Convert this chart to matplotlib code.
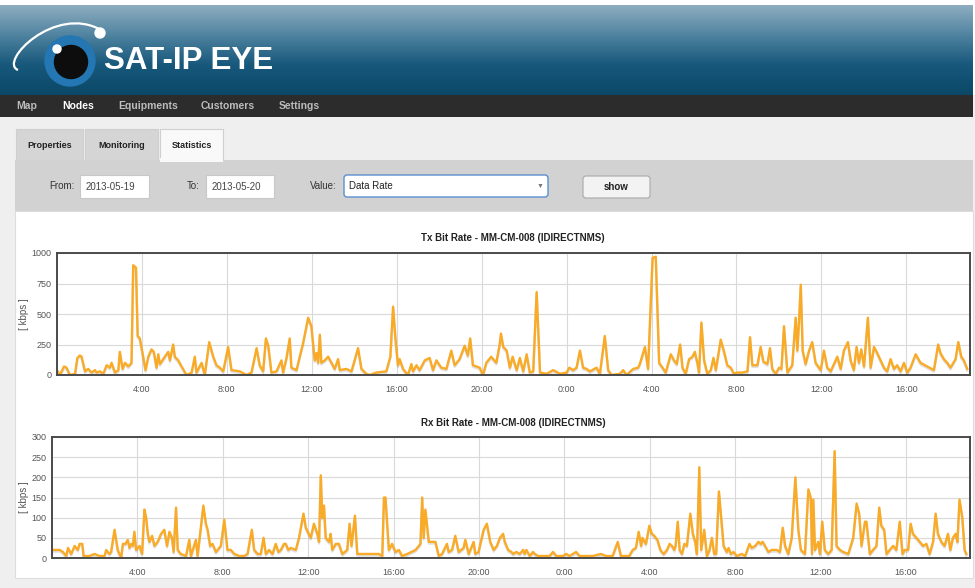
import numpy as np
import matplotlib
matplotlib.use('Agg')
import matplotlib.pyplot as plt
import matplotlib.patches as mpatches
import matplotlib.patheffects as pe
from matplotlib.path import Path
from matplotlib.colors import LinearSegmentedColormap

plt.rcParams['font.family'] = ['Liberation Sans', 'DejaVu Sans']

# ---- data (hours since 2013-05-19 0:00, kbps) ----
tx_hours = [0.0, 0.14, 0.33, 0.45, 0.61, 0.85, 0.96, 1.08, 1.16, 1.32, 1.47, 1.63, 1.79, 1.87,
            2.02, 2.18, 2.34, 2.49, 2.57, 2.73, 2.89, 2.96, 3.09, 3.2, 3.36, 3.51, 3.59, 3.72,
            3.8, 3.9, 4.06, 4.17, 4.3, 4.45, 4.56, 4.69, 4.77, 4.85, 5.08, 5.24, 5.32, 5.47,
            5.55, 5.71, 5.87, 6.1, 6.34, 6.49, 6.57, 6.81, 6.96, 7.17, 7.36, 7.51, 7.67, 7.83,
            8.06, 8.22, 8.61, 8.93, 9.16, 9.4, 9.55, 9.71, 9.84, 9.95, 10.1, 10.34, 10.57,
            10.65, 10.81, 10.96, 11.04, 11.28, 11.59, 11.83, 11.98, 12.14, 12.22, 12.3, 12.38,
            12.45, 12.61, 12.77, 12.93, 13.08, 13.24, 13.32, 13.63, 13.87, 14.18, 14.34, 14.57,
            14.73, 15.04, 15.51, 15.7, 15.83, 15.94, 16.06, 16.14, 16.3, 16.53, 16.69, 16.77,
            16.93, 17.08, 17.32, 17.55, 17.71, 17.87, 18.1, 18.34, 18.57, 18.73, 18.96, 19.2,
            19.35, 19.46, 19.59, 19.91, 20.06, 20.22, 20.45, 20.69, 20.85, 20.91, 21.02, 21.18,
            21.33, 21.46, 21.65, 21.8, 21.96, 22.12, 22.27, 22.43, 22.59, 22.75, 23.06, 23.37,
            23.69, 24.0, 24.13, 24.31, 24.47, 24.63, 24.78, 24.94, 25.1, 25.41, 25.57, 25.8,
            25.96, 26.12, 26.51, 26.67, 26.82, 27.14, 27.37, 27.45, 27.69, 27.84, 28.05, 28.2,
            28.36, 28.52, 28.67, 28.91, 29.06, 29.19, 29.35, 29.46, 29.61, 29.77, 29.93, 30.04,
            30.16, 30.24, 30.35, 30.48, 30.63, 30.79, 30.92, 31.03, 31.26, 31.42, 31.57, 31.73,
            31.89, 32.04, 32.28, 32.52, 32.64, 32.75, 32.99, 33.14, 33.27, 33.46, 33.58, 33.69,
            33.85, 34.01, 34.12, 34.24, 34.4, 34.63, 34.79, 34.87, 34.95, 35.03, 35.12, 35.26,
            35.42, 35.57, 35.73, 35.97, 36.12, 36.28, 36.44, 36.75, 36.91, 37.06, 37.25, 37.38,
            37.53, 37.66, 37.77, 37.88, 38.01, 38.19, 38.32, 38.48, 38.63, 38.79, 38.95, 39.1,
            39.26, 39.42, 39.57, 39.73, 39.89, 40.05, 40.2, 40.44, 40.67, 40.99, 41.3, 41.5,
            41.61, 41.77, 41.93, 42.08, 42.32, 42.45, 42.59, 42.71, 42.87]
tx_kbps = [40, 0, 70, 60, 0, 10, 140, 160, 150, 30, 50, 20, 40, 20,
           30, 10, 80, 60, 100, 20, 40, 190, 50, 100, 70, 100, 900, 880,
           320, 300, 150, 40, 150, 210, 190, 60, 170, 90, 150, 190, 120, 250,
           150, 120, 70, 0, 20, 150, 20, 100, 0, 270, 150, 80, 60, 30,
           230, 40, 30, 0, 20, 220, 80, 30, 300, 240, 20, 30, 120,
           20, 140, 300, 60, 40, 260, 470, 400, 120, 180, 100, 330,
           100, 120, 150, 100, 50, 130, 40, 50, 30, 220, 50, 10,
           0, 20, 30, 150, 560, 300, 80, 130, 50, 0, 90, 30,
           80, 40, 120, 140, 40, 120, 60, 50, 200, 80, 130, 240,
           160, 300, 80, 60, 0, 100, 150, 100, 250, 340, 230, 200,
           60, 150, 40, 140, 30, 170, 20, 30, 680, 20, 10, 40,
           10, 20, 60, 40, 60, 200, 60, 50, 30, 60, 10, 320,
           40, 0, 10, 40, 0, 50, 60, 90, 230, 50, 960, 970,
           100, 60, 20, 170, 120, 90, 250, 60, 10, 130, 150, 190,
           100, 20, 430, 120, 10, 40, 140, 40, 290, 190, 80, 60,
           10, 20, 20, 30, 310, 80, 80, 230, 110, 90, 220, 50,
           10, 60, 50, 400, 20, 80, 470, 200, 450, 740, 200, 90,
           200, 270, 100, 40, 200, 60, 30, 150, 50, 200, 270, 120,
           40, 230, 100, 210, 70, 470, 60, 230, 180, 120, 60, 30,
           130, 50, 80, 30, 100, 20, 60, 170, 100, 70, 40, 250,
           180, 130, 100, 60, 130, 270, 150, 120, 50]

rx_hours = [0.0, 0.36, 0.51, 0.67, 0.75, 0.9, 1.06, 1.21, 1.29, 1.42, 1.48, 1.76, 1.99, 2.23,
            2.46, 2.54, 2.69, 2.77, 2.93, 3.08, 3.24, 3.32, 3.44, 3.55, 3.63, 3.71, 3.79, 3.86,
            3.94, 4.1, 4.22, 4.33, 4.41, 4.49, 4.56, 4.69, 4.8, 4.95, 5.11, 5.26, 5.39, 5.5,
            5.62, 5.7, 5.81, 5.89, 6.04, 6.28, 6.43, 6.51, 6.74, 6.82, 7.09, 7.21, 7.29, 7.41,
            7.52, 7.68, 7.91, 8.07, 8.22, 8.38, 8.54, 8.77, 9.0, 9.16, 9.36, 9.47, 9.63, 9.78,
            9.91, 10.02, 10.17, 10.33, 10.48, 10.61, 10.72, 10.87, 10.95, 11.07, 11.18, 11.42,
            11.57, 11.78, 11.89, 12.12, 12.27, 12.43, 12.51, 12.59, 12.66, 12.74, 12.82, 12.98,
            13.05, 13.13, 13.29, 13.44, 13.6, 13.83, 13.94, 14.03, 14.19, 14.3, 14.45, 14.69,
            15.0, 15.31, 15.47, 15.55, 15.62, 15.78, 15.93, 16.09, 16.25, 16.4, 16.64, 17.03,
            17.26, 17.34, 17.41, 17.49, 17.65, 17.8, 17.96, 18.12, 18.27, 18.5, 18.58, 18.74,
            18.89, 19.05, 19.28, 19.36, 19.52, 19.75, 19.83, 19.98, 20.22, 20.37, 20.53, 20.69,
            20.84, 20.98, 21.13, 21.21, 21.37, 21.52, 21.6, 21.75, 21.91, 22.07, 22.14, 22.22,
            22.38, 22.53, 22.61, 22.77, 23.0, 23.31, 23.47, 23.62, 23.93, 24.09, 24.24, 24.55,
            24.71, 25.02, 25.33, 25.72, 25.95, 26.26, 26.5, 26.65, 27.04, 27.2, 27.35, 27.48,
            27.6, 27.66, 27.82, 27.98, 28.1, 28.21, 28.36, 28.5, 28.65, 28.81, 28.93, 29.04,
            29.15, 29.21, 29.31, 29.4, 29.51, 29.62, 29.74, 29.9, 30.02, 30.13, 30.21, 30.32,
            30.41, 30.55, 30.68, 30.8, 30.91, 31.02, 31.11, 31.24, 31.33, 31.46, 31.61, 31.69,
            31.8, 31.92, 32.08, 32.31, 32.47, 32.67, 32.78, 32.94, 33.09, 33.2, 33.29, 33.4,
            33.56, 33.71, 33.95, 34.1, 34.23, 34.34, 34.49, 34.65, 34.82, 34.96, 35.08, 35.27,
            35.43, 35.54, 35.6, 35.66, 35.74, 35.89, 35.97, 36.08, 36.2, 36.36, 36.52, 36.66,
            36.75, 36.91, 37.06, 37.3, 37.53, 37.69, 37.81, 37.92, 38.08, 38.15, 38.31, 38.46,
            38.62, 38.75, 38.85, 38.98, 39.09, 39.24, 39.4, 39.55, 39.71, 39.84, 39.94, 40.1,
            40.22, 40.33, 40.49, 40.65, 40.8, 40.96, 41.11, 41.27, 41.39, 41.5, 41.66, 41.81,
            41.97, 42.08, 42.2, 42.33, 42.41, 42.51, 42.64, 42.75, 42.83]
rx_kbps = [20, 20, 15, 5, 25, 10, 30, 20, 35, 35, 5, 5, 10, 5,
           5, 20, 10, 15, 70, 20, 0, 35, 35, 45, 25, 35, 30, 65,
           20, 30, 10, 120, 100, 60, 40, 55, 30, 40, 60, 70, 30, 65,
           50, 15, 125, 20, 10, 5, 45, 5, 45, 5, 130, 85, 70, 30,
           35, 15, 30, 95, 20, 20, 10, 5, 5, 10, 70, 20, 10, 10,
           50, 10, 20, 10, 35, 15, 20, 35, 35, 20, 25, 20,
           50, 110, 75, 50, 85, 60, 40, 205, 100, 130, 50, 40,
           60, 20, 35, 35, 10, 20, 85, 30, 105, 10, 10, 10,
           10, 10, 5, 150, 150, 20, 35, 15, 20, 5, 10, 20,
           35, 150, 50, 120, 40, 40, 40, 5, 10, 35, 15, 20,
           55, 15, 25, 45, 10, 40, 10, 15, 70, 85, 40, 20,
           30, 50, 60, 40, 20, 15, 10, 15, 10, 20, 10, 20,
           5, 15, 10, 5, 5, 5, 15, 5, 5, 10, 5, 15,
           5, 5, 5, 10, 5, 5, 40, 5, 5, 20, 25, 65,
           30, 50, 35, 80, 60, 55, 45, 20, 10, 20, 35, 30,
           20, 30, 90, 20, 10, 35, 30, 110, 60, 40, 10, 225,
           20, 70, 5, 20, 50, 10, 10, 165, 110, 30, 15, 25,
           10, 15, 5, 10, 5, 35, 25, 30, 40, 35, 40, 30,
           15, 20, 20, 15, 75, 30, 10, 50, 200, 70, 20, 10,
           170, 150, 10, 145, 20, 40, 10, 90, 20, 10, 20, 265,
           30, 20, 15, 10, 50, 135, 110, 30, 90, 90, 10, 20,
           30, 125, 80, 70, 10, 20, 30, 20, 90, 10, 20, 20,
           85, 60, 50, 40, 30, 35, 10, 40, 110, 60, 40, 30,
           60, 20, 50, 60, 40, 145, 100, 20, 10]

x_ticks = [4, 8, 12, 16, 20, 24, 28, 32, 36, 40]
x_tick_labels = ['4:00', '8:00', '12:00', '16:00', '20:00', '0:00', '4:00', '8:00', '12:00', '16:00']
tx_yticks = [0, 250, 500, 750, 1000]
rx_yticks = [0, 50, 100, 150, 200, 250, 300]
nav_items = ['Map', 'Nodes', 'Equipments', 'Customers', 'Settings']
tab_names = ['Properties', 'Monitoring', 'Statistics']

W, H = 975, 588
fig = plt.figure(figsize=(W / 100, H / 100), dpi=100)
fig.patch.set_facecolor('#efefef')

# page chrome drawn in pixel coordinates
bg = fig.add_axes([0, 0, 1, 1])
bg.set_xlim(0, W)
bg.set_ylim(H, 0)
bg.axis('off')


def box(x0, y0, x1, y1, fc, ec='none', lw=0.8, z=1):
    bg.add_patch(mpatches.Rectangle((x0, y0), x1 - x0, y1 - y0, facecolor=fc,
                                    edgecolor=ec, linewidth=lw, zorder=z))


box(0, 0, W, 5, 'white')
# header gradient
head_cmap = LinearSegmentedColormap.from_list('head', ['#8eadc0', '#4f83a0', '#17587b', '#0b4868'])
bg.imshow(np.linspace(0, 1, 100)[:, None], extent=[0, 973, 95, 5], aspect='auto',
          cmap=head_cmap, zorder=1)
box(973, 0, W, 95, 'white', z=2)

# logo
orbit = Path([(18, 70), (-2, 62), (55, 4), (101, 30)],
             [Path.MOVETO, Path.CURVE4, Path.CURVE4, Path.CURVE4])
bg.add_patch(mpatches.PathPatch(orbit, facecolor='none', edgecolor='white', lw=1.6, zorder=3))
bg.add_patch(mpatches.Circle((70, 61), 25, color='#2477b3', zorder=3))
bg.add_patch(mpatches.Circle((71, 62), 16.5, color='#0d0d0d', zorder=4))
bg.add_patch(mpatches.Circle((57, 49), 4, color='white', zorder=5))
bg.add_patch(mpatches.Circle((100, 33), 5, color='white', zorder=5))
bg.text(104, 61, 'SAT-IP EYE', color='white', fontsize=22.5, fontweight='bold',
        va='center', ha='left', zorder=5)

# nav bar
box(0, 95, 973, 117, '#2c2c2c', z=2)
nav_x = [16, 62, 118, 201, 279]
for name, nx in zip(nav_items, nav_x):
    bg.text(nx, 106, name, color='white' if name == 'Nodes' else '#bdbdbd',
            fontsize=7.5, fontweight='bold', va='center', ha='left', zorder=3)

# tabs
tab_x = [(16, 83), (85, 158), (160, 223)]
for name, (t0, t1) in zip(tab_names, tab_x):
    active = name == 'Statistics'
    box(t0, 129, t1, 161, '#f9f9f9' if active else '#d5d5d5',
        ec='#cfcfcf', z=2)
    bg.text((t0 + t1) / 2, 145, name, fontsize=6.5, fontweight='bold',
            color='#222222', ha='center', va='center', zorder=3)

# form panel
box(15, 160, 973, 211, '#d2d2d2', z=2)
box(160, 158, 223, 162, '#f9f9f9', z=3)
for label, lx in [('From:', 75), ('To:', 200), ('Value:', 337)]:
    bg.text(lx, 186, label, fontsize=7, color='#333333', ha='right', va='center', zorder=3)
for val, (b0, b1) in [('2013-05-19', (80, 149)), ('2013-05-20', (206, 274))]:
    box(b0, 175, b1, 198, 'white', ec='#c8c8c8', z=3)
    bg.text(b0 + 6, 186.5, val, fontsize=7, color='#444444', ha='left', va='center', zorder=4)
bg.add_patch(mpatches.FancyBboxPatch((344, 175), 204, 22, boxstyle='round,pad=0,rounding_size=3',
                                     facecolor='white', edgecolor='#5b8fd0', lw=1.0, zorder=3))
bg.text(349, 186, 'Data Rate', fontsize=7, color='#222222', ha='left', va='center', zorder=4)
bg.text(540, 186, '\u25bc', fontsize=5, color='#777777', ha='center', va='center', zorder=4)
bg.add_patch(mpatches.FancyBboxPatch((583, 176), 67, 22, boxstyle='round,pad=0,rounding_size=3',
                                     facecolor='#f3f3f3', edgecolor='#a9a9a9', lw=0.8, zorder=3))
bg.text(616.5, 187, 'show', fontsize=7, fontweight='bold', color='#222222',
        ha='center', va='center', zorder=4)

# white chart panel
box(15, 211, 973, 578, 'white', ec='#dddddd', z=2)
bg.text(513, 238, 'Tx Bit Rate - MM-CM-008 (IDIRECTNMS)', fontsize=7, fontweight='bold',
        color='#222222', ha='center', va='center', zorder=3)
bg.text(513, 423, 'Rx Bit Rate - MM-CM-008 (IDIRECTNMS)', fontsize=7, fontweight='bold',
        color='#222222', ha='center', va='center', zorder=3)


def chart(rect, hours, vals, yticks, label_x):
    left, top, right, bottom = rect
    ax = fig.add_axes([left / W, (H - bottom) / H, (right - left) / W, (bottom - top) / H])
    ax.plot(hours, vals, color='#f9ab28', lw=1.7, solid_joinstyle='round',
            path_effects=[pe.SimpleLineShadow(offset=(0, -1.2), alpha=0.12), pe.Normal()])
    ax.set_xlim(0, 43)
    ax.set_ylim(yticks[0], yticks[-1])
    ax.set_xticks(x_ticks)
    ax.set_xticklabels(x_tick_labels)
    ax.set_yticks(yticks)
    ax.grid(True, color='#d9d9d9', lw=0.8)
    ax.set_axisbelow(True)
    ax.tick_params(length=0, labelsize=6.5, colors='#555555', pad=4)
    ax.tick_params(axis='x', pad=7)
    for s in ax.spines.values():
        s.set_color('#4a4a4a')
        s.set_linewidth(1.4)
    ax.set_ylabel('[ kbps ]', fontsize=7, color='#555555')
    ax.yaxis.set_label_coords(label_x, 0.5)
    return ax


chart((57, 253, 970, 375), tx_hours, tx_kbps, tx_yticks, -0.031)
chart((52, 437, 970, 558), rx_hours, rx_kbps, rx_yticks, -0.025)

fig.savefig('out.png', dpi=100)
